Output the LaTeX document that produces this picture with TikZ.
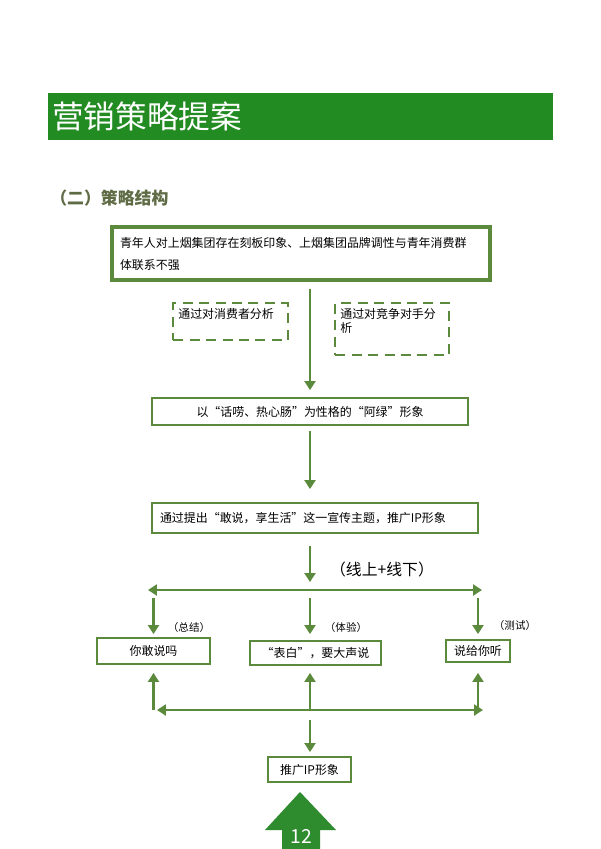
\documentclass[tikz,border=0pt]{standalone}
\usepackage{fontspec}
\setmainfont{Noto Sans CJK SC}
\usepackage{tikz}
\usetikzlibrary{arrows.meta,calc}
\definecolor{ipGreen}{HTML}{228B22}
\definecolor{ipPage}{HTML}{2E8B2E}
\definecolor{ipOlive}{HTML}{5B8A3C}
\definecolor{ipGray}{HTML}{5E6B45}
\tikzset{
  flow/.style={-{Triangle[length=1.8mm,width=2.2mm]}, line width=1.6pt,
    draw=ipOlive},
  both flow/.style={{Triangle[length=1.8mm,width=2.2mm]}-{Triangle[length=1.8mm,width=2.2mm]},
    line width=1.6pt, draw=ipOlive},
  body text/.style={font=\fontsize{6.8}{8}\selectfont},
  plain box/.style={draw=ipOlive, line width=1.1pt, fill=white, body text,
    inner sep=0pt, align=center},
  lead box/.style={draw=ipOlive, line width=1.8pt, align=left,
    text width=72.4mm, inner xsep=1.6mm, minimum height=10.6mm,
    font=\fontsize{6.8}{12.5}\selectfont},
  wide box/.style={draw=ipOlive, line width=1.1pt, body text, align=left,
    text width=62mm, inner xsep=1.6mm, minimum height=6mm},
  note box/.style={draw=ipOlive, line width=1.2pt,
    dash pattern=on 2mm off 1.3mm},
  note text/.style={body text, align=left, inner sep=1.2mm},
  side label/.style={font=\fontsize{6}{7}\selectfont}
}
\begin{document}
\begin{tikzpicture}[x=0.02cm, y=-0.02cm]
  \useasboundingbox (0,0) rectangle (600,849);
  \fill[white] (0,0) rectangle (600,849);

  \fill[ipGreen] (48,93) rectangle (553,140);
  \node[anchor=west, inner sep=0pt, text=white,
    font=\fontsize{18}{20}\selectfont] (title) at (52,116) {营销策略提案};
  \node[anchor=west, inner sep=0pt, text=ipGray,
    font=\fontsize{9.6}{11}\selectfont\bfseries] (subtitle) at (50,198) {（二）策略结构};

  \node[lead box] (lead) at (301,253.5)
    {青年人对上烟集团存在刻板印象、上烟集团品牌调性与青年消费群\\体联系不强};
  \node[note box, minimum width=23mm, minimum height=7.4mm,
    label={[note text, anchor=north west]north west:{通过对消费者分析}}] (consumer) at (230.5,321.5) {};
  \node[note box, minimum width=22.8mm, minimum height=10.4mm,
    label={[note text, anchor=north west]north west:{通过对竞争对手分\\析}}] (rival) at (392,329) {};

  \node[plain box, minimum width=63.2mm, minimum height=5.4mm] (trait) at (310,411.5)
    {以“话唠、热心肠”为性格的“阿绿”形象};
  \node[wide box] (theme) at (315,518)
    {通过提出“敢说，享生活”这一宣传主题，推广IP形象};

  \draw[flow, shorten <=1.4mm, shorten >=1.4mm] (lead.south -| trait.north) -- (trait.north);
  \draw[flow, shorten <=1mm, shorten >=2.6mm] (trait.south) -- (trait.south |- theme.north);

  \coordinate (hubtop) at (310,590);
  \coordinate (topleft) at (148,590);
  \coordinate (topright) at (482,590);
  \draw[flow, shorten <=2.4mm, shorten >=1.6mm] (theme.south -| hubtop) -- (hubtop);
  \node[font=\fontsize{9}{10}\selectfont] (channel) at (382,569) {（线上+线下）};
  \draw[both flow] (topleft) -- (topright);

  \node[plain box, minimum width=22.6mm, minimum height=5.2mm] (dare) at (153.5,651) {你敢说吗};
  \node[plain box, minimum width=26.2mm, minimum height=4.8mm] (confess) at (315.5,653) {“表白”，要大声说};
  \node[plain box, minimum width=12.8mm, minimum height=4.4mm] (tell) at (478,651) {说给你听};

  \node[side label] (sum) at (189,627) {（总结）};
  \node[side label] (feel) at (346,627) {（体验）};
  \node[side label] (probe) at (515,625) {（测试）};

  \draw[flow, shorten <=1.6mm, shorten >=0.6mm] (dare.north |- hubtop) -- (dare.north);
  \draw[flow, shorten <=1.6mm, shorten >=1.2mm] (hubtop) -- (hubtop |- confess.north);
  \draw[flow, shorten <=1.6mm, shorten >=1mm] (tell.north |- hubtop) -- (tell.north);

  \coordinate (hubbot) at (310,710);
  \coordinate (botleft) at (157,710);
  \coordinate (botright) at (483,710);
  \draw[both flow] (botleft) -- (botright);
  \draw[flow, shorten >=1.6mm] (dare.south |- hubbot) -- (dare.south);
  \draw[flow, shorten >=1.4mm] (hubbot) -- (hubbot |- confess.south);
  \draw[flow, shorten >=2mm] (tell.south |- hubbot) -- (tell.south);

  \node[plain box, minimum width=16.6mm, minimum height=5mm] (promote) at (309.5,769.5) {推广IP形象};
  \draw[flow, shorten <=2mm, shorten >=0.8mm] (hubbot) -- (hubbot |- promote.north);

  \fill[ipPage] (300,792) -- (336,830) -- (320,830) -- (320,849)
    -- (282,849) -- (282,830) -- (265,830) -- cycle;
  \node[text=white, font=\fontsize{11}{12}\selectfont] (page) at (301,836) {12};
\end{tikzpicture}
\end{document}
